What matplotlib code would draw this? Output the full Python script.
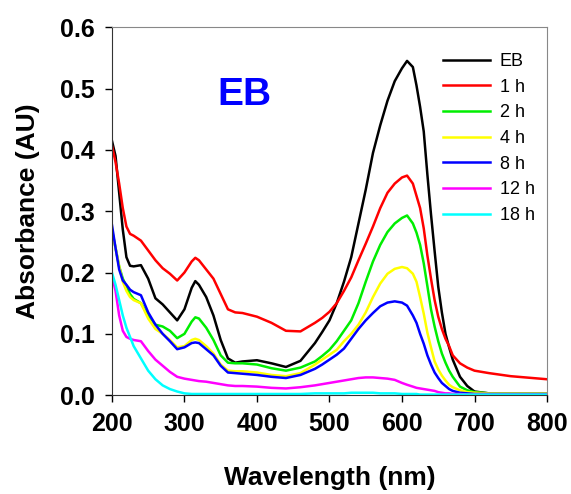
import matplotlib
matplotlib.use("Agg")
import matplotlib.pyplot as plt
import numpy as np

plt.rcParams['font.family'] = ['Liberation Sans', 'DejaVu Sans']

# wavelength grid (nm)
wl = [200, 205, 210, 215, 220, 225, 230, 240, 250, 260, 270, 280, 290, 300, 310,
      315, 320, 330, 340, 350, 360, 370, 380, 400, 420, 440, 460, 480, 490, 500,
      510, 520, 530, 540, 550, 560, 570, 580, 590, 600, 607, 615, 620, 625, 630,
      635, 640, 645, 650, 655, 660, 665, 670, 680, 690, 700, 720, 750, 800]

eb = [0.415, 0.39, 0.33, 0.27, 0.225, 0.211, 0.21, 0.212, 0.19, 0.158, 0.148, 0.135, 0.122, 0.14, 0.175,
      0.186, 0.18, 0.16, 0.13, 0.09, 0.06, 0.053, 0.055, 0.057, 0.052, 0.046, 0.056, 0.085, 0.103, 0.122,
      0.15, 0.185, 0.225, 0.28, 0.335, 0.395, 0.44, 0.48, 0.512, 0.533, 0.545, 0.535, 0.505, 0.47, 0.43,
      0.36, 0.295, 0.235, 0.177, 0.135, 0.1, 0.078, 0.058, 0.03, 0.015, 0.006, 0.003, 0.002, 0.002]
h1 = [0.407, 0.38, 0.345, 0.305, 0.275, 0.263, 0.26, 0.252, 0.236, 0.22, 0.207, 0.198, 0.187, 0.2, 0.218,
      0.224, 0.22, 0.205, 0.19, 0.165, 0.14, 0.135, 0.134, 0.128, 0.118, 0.105, 0.104, 0.118, 0.126, 0.136,
      0.15, 0.17, 0.192, 0.22, 0.247, 0.275, 0.305, 0.33, 0.345, 0.355, 0.358, 0.345, 0.325, 0.305, 0.272,
      0.228, 0.19, 0.155, 0.128, 0.108, 0.092, 0.08, 0.065, 0.052, 0.045, 0.04, 0.036, 0.031, 0.026]
h2 = [0.27, 0.24, 0.21, 0.19, 0.178, 0.165, 0.157, 0.15, 0.13, 0.115, 0.112, 0.105, 0.093, 0.1, 0.12,
      0.127, 0.125, 0.11, 0.09, 0.065, 0.053, 0.052, 0.052, 0.05, 0.044, 0.04, 0.045, 0.055, 0.064, 0.074,
      0.088, 0.105, 0.122, 0.15, 0.185, 0.218, 0.245, 0.266, 0.28, 0.289, 0.293, 0.28, 0.265, 0.245, 0.215,
      0.178, 0.14, 0.112, 0.088, 0.068, 0.053, 0.04, 0.03, 0.014, 0.008, 0.005, 0.003, 0.003, 0.003]
h4 = [0.268, 0.24, 0.21, 0.185, 0.17, 0.16, 0.155, 0.15, 0.125, 0.108, 0.1, 0.09, 0.078, 0.08, 0.09,
      0.092, 0.09, 0.08, 0.068, 0.05, 0.04, 0.039, 0.039, 0.037, 0.033, 0.031, 0.036, 0.05, 0.058, 0.066,
      0.074, 0.088, 0.1, 0.115, 0.135, 0.16, 0.182, 0.198, 0.206, 0.209, 0.207, 0.198, 0.185, 0.16, 0.133,
      0.102, 0.078, 0.055, 0.042, 0.032, 0.024, 0.017, 0.013, 0.008, 0.005, 0.004, 0.003, 0.003, 0.003]
h8 = [0.278, 0.24, 0.205, 0.187, 0.18, 0.172, 0.168, 0.163, 0.135, 0.115, 0.1, 0.088, 0.075, 0.078, 0.085,
      0.086, 0.085, 0.075, 0.065, 0.048, 0.037, 0.036, 0.035, 0.033, 0.03, 0.028, 0.033, 0.043, 0.05, 0.058,
      0.066, 0.076, 0.092, 0.108, 0.122, 0.134, 0.145, 0.151, 0.153, 0.151, 0.146, 0.13, 0.118, 0.1, 0.084,
      0.065, 0.05, 0.037, 0.028, 0.02, 0.015, 0.01, 0.007, 0.004, 0.003, 0.002, 0.002, 0.002, 0.002]
h12 = [0.195, 0.17, 0.13, 0.105, 0.095, 0.092, 0.09, 0.088, 0.072, 0.058, 0.048, 0.038, 0.03, 0.027, 0.025,
       0.024, 0.023, 0.022, 0.02, 0.018, 0.016, 0.015, 0.015, 0.014, 0.012, 0.011, 0.013, 0.016, 0.018, 0.02,
       0.022, 0.024, 0.026, 0.028, 0.029, 0.029, 0.028, 0.027, 0.025, 0.02, 0.017, 0.014, 0.012, 0.011, 0.01,
       0.009, 0.008, 0.007, 0.005, 0.004, 0.003, 0.003, 0.002, 0.002, 0.001, 0.001, 0.001, 0.001, 0.001]
h18 = [0.2, 0.18, 0.155, 0.13, 0.11, 0.095, 0.08, 0.06, 0.04, 0.026, 0.016, 0.01, 0.006, 0.003, 0.002,
       0.002, 0.002, 0.002, 0.002, 0.002, 0.002, 0.002, 0.002, 0.002, 0.002, 0.002, 0.002, 0.003, 0.003, 0.003,
       0.003, 0.003, 0.004, 0.004, 0.004, 0.004, 0.003, 0.003, 0.003, 0.002, 0.002, 0.002, 0.002, 0.001, 0.001,
       0.001, 0.001, 0.001, 0.001, 0.001, 0.001, 0.001, 0.001, 0.001, 0.001, 0.001, 0.001, 0.001, 0.001]

series = [eb, h1, h2, h4, h8, h12, h18]
labels = ["EB", "1 h", "2 h", "4 h", "8 h", "12 h", "18 h"]
colors = ["black", "red", "#00ee00", "yellow", "blue", "magenta", "cyan"]

fig = plt.figure(figsize=(5.71, 4.94), dpi=100)
ax = fig.add_axes([0.196, 0.200, 0.762, 0.745])

for y, lab, c in zip(series, labels, colors):
    ax.plot(wl, y, color=c, lw=1.8, label=lab)

ax.set_xlim(200, 800)
ax.set_ylim(0, 0.6)
ax.set_xticks(np.arange(200, 801, 100))
ax.set_yticks(np.arange(0, 0.61, 0.1))
ax.yaxis.set_major_formatter(matplotlib.ticker.FormatStrFormatter('%.1f'))
ax.tick_params(direction='out', length=5, width=1, labelsize=18, pad=7)
for lbl in ax.get_xticklabels() + ax.get_yticklabels():
    lbl.set_fontweight('bold')
for s in ['top', 'right']:
    ax.spines[s].set_color('#888888')
for s in ['left', 'bottom']:
    ax.spines[s].set_color('#333333')

ax.set_xlabel("Wavelength (nm)", fontsize=19, fontweight='bold', labelpad=22)
ax.set_ylabel("Absorbance (AU)", fontsize=19, fontweight='bold', labelpad=15)

ax.text(383, 0.49, "EB", color='blue', fontsize=28, fontweight='bold',
        ha='center', va='center')

ax.legend(loc='upper left', frameon=False, fontsize=13, handlelength=2.6,
          labelspacing=0.48, handletextpad=0.55, borderpad=0, borderaxespad=0,
          bbox_to_anchor=(443 / 571, 1 - 53 / 494), bbox_transform=fig.transFigure)

fig.savefig("out.png", dpi=100)
